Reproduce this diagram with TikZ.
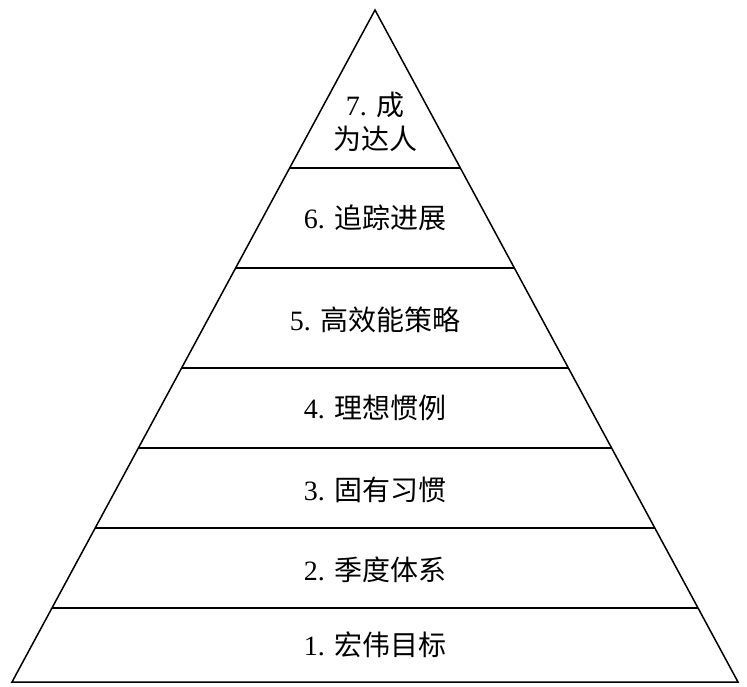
\documentclass[tikz,border=0pt]{standalone}
\usepackage{fontspec}
\setmainfont{Liberation Serif}
\newfontfamily\cjk{Noto Sans CJK SC}
\usetikzlibrary{calc}
\begin{document}
\begin{tikzpicture}[x=1pt,y=-1pt,
			level/.style={
				font = \fontsize{28}{34}\selectfont,
				inner sep = 0mm,
				align = center}]
			\useasboundingbox (0,0) rectangle (747,686);
			\coordinate (apex) at (375,10);
			\coordinate (bl) at (12,682);
			\coordinate (br) at (738,682);
			\draw[line width=1.5pt, line join=miter] (apex) -- (bl) -- (br) -- cycle;
			\foreach \y in {168, 268, 368, 448, 528, 608}
				\draw[line width=1.5pt] ($(apex)!{(\y-10)/672}!(bl)$) -- ($(apex)!{(\y-10)/672}!(br)$);
			\node (l7) at (375,122) [level] {7. {\cjk 成}\\{\cjk 为达人}};
			\node (l6) at (375,218) [level] {6. {\cjk 追踪进展}};
			\node (l5) at (375,320) [level] {5. {\cjk 高效能策略}};
			\node (l4) at (375,408) [level] {4. {\cjk 理想惯例}};
			\node (l3) at (375,490) [level] {3. {\cjk 固有习惯}};
			\node (l2) at (375,570) [level] {2. {\cjk 季度体系}};
			\node (l1) at (375,645) [level] {1. {\cjk 宏伟目标}};
\end{tikzpicture}
\end{document}
